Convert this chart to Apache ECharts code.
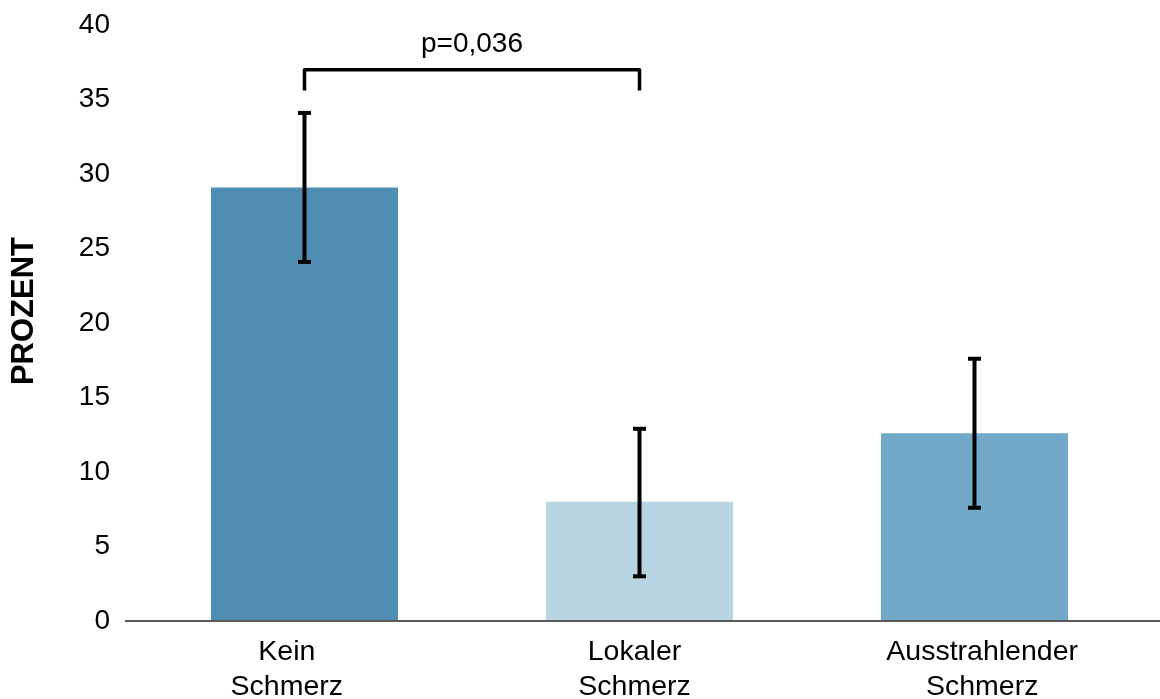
<!DOCTYPE html>
<html>
<head>
<meta charset="utf-8">
<script src="https://cdn.jsdelivr.net/npm/echarts@6/dist/echarts.min.js"></script>
<style>
  html, body { margin: 0; padding: 0; background: #fff; }
  #chart { width: 1160px; height: 699px; }
</style>
</head>
<body>
<div id="chart"></div>
<script>
// Share of patients per pain group, with error range
const categories = ['Kein\nSchmerz', 'Lokaler\nSchmerz', 'Ausstrahlender\nSchmerz'];
const values = [29.1, 8.0, 12.6];
const errLow = [24.1, 3.0, 7.6];
const errHigh = [34.1, 12.9, 17.6];
const barColors = ['#4F8DB3', '#B8D4E2', '#72A9C8'];
const yTicks = [0, 5, 10, 15, 20, 25, 30, 35, 40];

// Significance bracket between first two groups
const bracketFrom = 0;
const bracketTo = 1;
const bracketTop = 37.0;
const bracketLeg = 35.6;
const bracketLabel = 'p=0,036';

const FONT = 'Liberation Sans, Arial, sans-serif';
const chart = echarts.init(document.getElementById('chart'), null, { renderer: 'canvas' });

const option = {
  animation: false,
  backgroundColor: '#fff',
  grid: [
    // plot area for the bars
    { left: 137, right: 18, top: 25, bottom: 78, containLabel: false, outerBoundsMode: 'none' },
    // band used only for placing the category labels across the full baseline
    { left: 113, right: 4, top: 25, bottom: 78, containLabel: false, outerBoundsMode: 'none' }
  ],
  xAxis: [
    {
      type: 'category',
      gridIndex: 0,
      data: categories,
      axisLine: { show: false },
      axisTick: { show: false },
      axisLabel: { show: false }
    },
    {
      type: 'category',
      gridIndex: 1,
      data: categories,
      axisLine: { show: false },
      axisTick: { show: false },
      axisLabel: {
        color: '#000', fontFamily: FONT, fontSize: 28.5, lineHeight: 35, margin: 14, interval: 0
      }
    }
  ],
  yAxis: [
    {
      type: 'value',
      gridIndex: 0,
      min: yTicks[0],
      max: yTicks[yTicks.length - 1],
      interval: yTicks[1] - yTicks[0],
      axisLine: { show: false },
      axisTick: { show: false },
      splitLine: { show: false },
      axisLabel: { color: '#000', fontFamily: FONT, fontSize: 28, margin: 27 }
    },
    {
      type: 'value',
      gridIndex: 1,
      show: false
    }
  ],
  series: [
    {
      type: 'bar',
      barWidth: 187,
      data: values.map((v, i) => ({ value: v, itemStyle: { color: barColors[i] } })),
      z: 2
    },
    {
      type: 'custom',
      z: 5,
      data: categories.map((c, i) => [i, errLow[i], errHigh[i]]),
      renderItem: function (params, api) {
        const lo = api.coord([api.value(0), api.value(1)]);
        const hi = api.coord([api.value(0), api.value(2)]);
        const capW = 6.5;
        const style = { stroke: '#000', lineWidth: 4, fill: null };
        return {
          type: 'group',
          children: [
            { type: 'line', shape: { x1: hi[0], y1: hi[1], x2: lo[0], y2: lo[1] }, style: style },
            { type: 'line', shape: { x1: hi[0] - capW, y1: hi[1], x2: hi[0] + capW, y2: hi[1] }, style: style },
            { type: 'line', shape: { x1: lo[0] - capW, y1: lo[1], x2: lo[0] + capW, y2: lo[1] }, style: style }
          ]
        };
      }
    },
    {
      type: 'custom',
      z: 6,
      data: [[bracketFrom, bracketTo, bracketTop, bracketLeg]],
      renderItem: function (params, api) {
        const a = api.coord([api.value(0), api.value(2)]);
        const b = api.coord([api.value(1), api.value(2)]);
        const aLeg = api.coord([api.value(0), api.value(3)]);
        const bLeg = api.coord([api.value(1), api.value(3)]);
        return {
          type: 'group',
          children: [
            {
              type: 'polyline',
              shape: { points: [[aLeg[0], aLeg[1]], [a[0], a[1]], [b[0], b[1]], [bLeg[0], bLeg[1]]] },
              style: { stroke: '#000', lineWidth: 3.5, fill: null, lineJoin: 'round', lineCap: 'butt' }
            },
            {
              type: 'text',
              x: (a[0] + b[0]) / 2,
              y: a[1] - 25,
              style: {
                text: bracketLabel, fill: '#000', font: '28px ' + FONT,
                align: 'center', verticalAlign: 'middle'
              }
            }
          ]
        };
      }
    }
  ]
};

chart.setOption(option);

// Baseline across the full plot width, plus the rotated axis title
const y0 = chart.convertToPixel({ yAxisIndex: 0 }, 0);
chart.setOption({
  graphic: [
    {
      type: 'line',
      z: 10,
      shape: { x1: 125, y1: y0, x2: 1160, y2: y0 },
      style: { stroke: '#595959', lineWidth: 2 }
    },
    {
      type: 'text',
      x: 24,
      y: 311,
      rotation: Math.PI / 2,
      style: {
        text: 'PROZENT', fill: '#000', font: 'bold 31px ' + FONT,
        align: 'center', verticalAlign: 'middle'
      }
    }
  ]
});
</script>
</body>
</html>
